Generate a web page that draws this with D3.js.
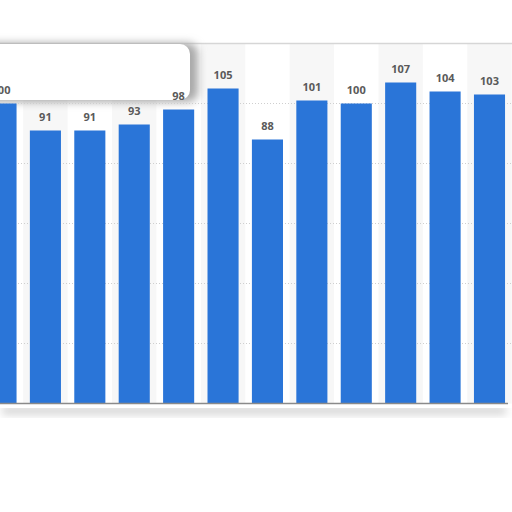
<!DOCTYPE html>
<html>
<head>
  <script src="https://d3js.org/d3.v7.min.js"></script>
  <style>
    body { margin: 0; background: #fff; }
    .label { font-family: "Open Sans", Roboto, sans-serif; font-size: 11px; font-weight: bold; fill: #5a5a5a; }
  </style>
</head>
<body>
  <script>
    // data
    const categories = ["2008", "2009", "2010", "2011", "2012", "2013", "2014", "2015", "2016", "2017", "2018", "2019"];
    const values = [100, 91, 91, 93, 98, 105, 88, 101, 100, 107, 104, 103];
    const gridValues = [20, 40, 60, 80, 100];

    const width = 512;
    const height = 512;

    const svg = d3.select("body")
      .append("svg")
      .attr("width", width)
      .attr("height", height);

    const defs = svg.append("defs");
    defs.append("filter").attr("id", "blur")
      .attr("x", "-20%").attr("y", "-50%").attr("width", "140%").attr("height", "200%")
      .append("feGaussianBlur").attr("stdDeviation", 4);

    const x = d3.scaleBand()
      .domain(categories)
      .range([-21.2, 511.7])
      .paddingInner(0.3)
      .paddingOuter(0.15);

    const y = d3.scaleLinear()
      .domain([0, 120])
      .range([403.5, 43.5]);

    // alternating column bands
    const step = x.step();
    svg.append("g")
      .selectAll("rect")
      .data(categories.filter((d, i) => i % 2 === 1))
      .enter()
      .append("rect")
      .attr("x", d => x(d) + x.bandwidth() / 2 - step / 2)
      .attr("y", y(120))
      .attr("width", step)
      .attr("height", y(0) - y(120))
      .attr("fill", "#f7f7f7");

    // top border line
    svg.append("line")
      .attr("x1", 0).attr("x2", width)
      .attr("y1", y(120)).attr("y2", y(120))
      .attr("stroke", "#d6d6d6").attr("stroke-width", 1.5);

    // blurred box at the upper left
    svg.append("rect")
      .attr("x", -20).attr("y", 43).attr("width", 218).attr("height", 59).attr("rx", 10)
      .attr("fill", "#a8a8a8")
      .attr("filter", "url(#blur)");
    svg.append("rect")
      .attr("x", -20).attr("y", 44).attr("width", 210).attr("height", 56).attr("rx", 10)
      .attr("fill", "#fff");

    // grid lines
    svg.append("g")
      .selectAll("line")
      .data(gridValues)
      .enter()
      .append("line")
      .attr("x1", 0).attr("x2", width)
      .attr("y1", d => y(d)).attr("y2", d => y(d))
      .attr("stroke", "#cfcfcf")
      .attr("stroke-dasharray", "1,2");

    // bars
    svg.append("g")
      .selectAll("rect")
      .data(values)
      .enter()
      .append("rect")
      .attr("x", (d, i) => x(categories[i]))
      .attr("y", d => y(d))
      .attr("width", x.bandwidth())
      .attr("height", d => y(0) - y(d))
      .attr("fill", "#2a75d8");

    // value labels
    svg.append("g")
      .selectAll("text")
      .data(values)
      .enter()
      .append("text")
      .attr("class", "label")
      .attr("x", (d, i) => x(categories[i]) + x.bandwidth() / 2)
      .attr("y", d => y(d) - 10)
      .attr("text-anchor", "middle")
      .text(d => d);

    // blurred shadow below the axis
    svg.append("rect")
      .attr("x", 2).attr("y", 407).attr("width", 504).attr("height", 7)
      .attr("fill", "#cdcdcd")
      .attr("filter", "url(#blur)");
    svg.append("rect")
      .attr("x", 0).attr("y", 404).attr("width", width).attr("height", 4)
      .attr("fill", "#fff");

    // axis line
    svg.append("line")
      .attr("x1", 0).attr("x2", 508)
      .attr("y1", y(0)).attr("y2", y(0))
      .attr("stroke", "#8a8a8a").attr("stroke-width", 1.5);
  </script>
</body>
</html>
